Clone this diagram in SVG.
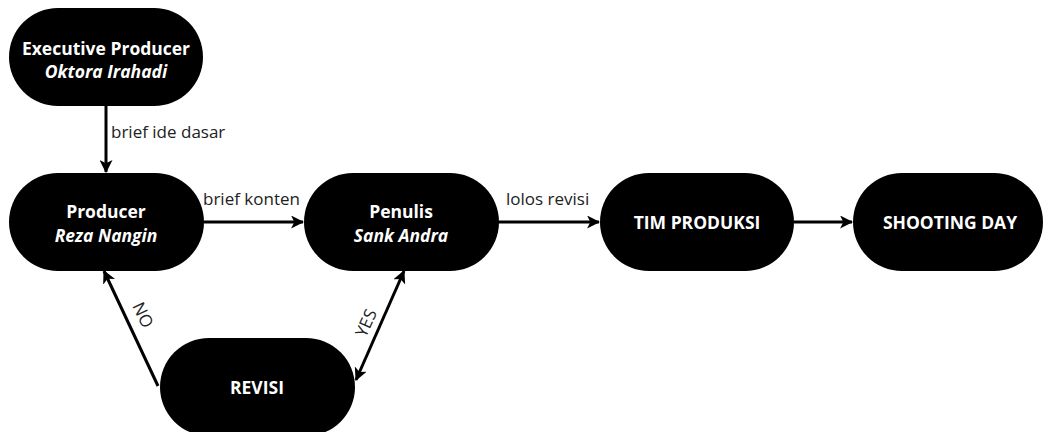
<svg xmlns="http://www.w3.org/2000/svg" width="1043" height="432" viewBox="0 0 1043 432">
<style>
.node{fill:#000}
.t{font-family:"Open Sans","Liberation Sans",sans-serif;font-size:17.5px;font-weight:bold;fill:#fff;text-anchor:middle}
.i{font-style:italic}
.lbl{font-family:"Open Sans","Liberation Sans",sans-serif;font-size:17px;fill:#222}
.m{text-anchor:middle}
.c{stroke:#000;stroke-width:3;fill:none}
</style>
<defs>
<marker id="ah" viewBox="0 0 12 12" refX="11" refY="6" markerWidth="13" markerHeight="13" markerUnits="userSpaceOnUse" orient="auto">
<path d="M0,0 L12,6 L0,12 L3,6 z" fill="#000"/>
</marker>
<marker id="as" viewBox="0 0 12 12" refX="1" refY="6" markerWidth="13" markerHeight="13" markerUnits="userSpaceOnUse" orient="auto">
<path d="M12,0 L0,6 L12,12 L9,6 z" fill="#000"/>
</marker>
</defs>
<rect width="1043" height="432" fill="#fff"/>
<g id="connectors">
<line class="c" x1="106" y1="106" x2="106" y2="172" marker-end="url(#ah)"/>
<line class="c" x1="204" y1="222" x2="303" y2="222" marker-end="url(#ah)"/>
<line class="c" x1="498" y1="222" x2="599" y2="222" marker-end="url(#ah)"/>
<line class="c" x1="794" y1="222" x2="852" y2="222" marker-end="url(#ah)"/>
<line class="c" x1="158" y1="386" x2="104" y2="271" marker-end="url(#ah)"/>
<line class="c" x1="356" y1="380" x2="404" y2="271" marker-start="url(#as)" marker-end="url(#ah)"/>
<text class="lbl" x="111" y="138">brief ide dasar</text>
<text class="lbl" x="203" y="205">brief konten</text>
<text class="lbl" x="506" y="205">lolos revisi</text>
<text class="lbl m" transform="translate(143,315) rotate(65)" y="6">NO</text>
<text class="lbl m" transform="translate(366,323) rotate(-66)" y="6">YES</text>
</g>
<g id="exec">
<rect class="node" x="9" y="8" width="194" height="98" rx="49"/>
<text class="t" x="106" y="55">Executive Producer</text>
<text class="t i" x="106" y="78">Oktora Irahadi</text>
</g>
<g id="producer">
<rect class="node" x="9" y="173" width="195" height="98" rx="49"/>
<text class="t" x="106" y="218">Producer</text>
<text class="t i" x="106" y="242">Reza Nangin</text>
</g>
<g id="penulis">
<rect class="node" x="304" y="173" width="195" height="98" rx="49"/>
<text class="t" x="401" y="218">Penulis</text>
<text class="t i" x="401" y="242">Sank Andra</text>
</g>
<g id="tim">
<rect class="node" x="600" y="173" width="194" height="98" rx="49"/>
<text class="t" x="697" y="229">TIM PRODUKSI</text>
</g>
<g id="shooting">
<rect class="node" x="853" y="173" width="190" height="98" rx="49"/>
<text class="t" x="950" y="229">SHOOTING DAY</text>
</g>
<g id="revisi">
<rect class="node" x="160" y="338" width="195" height="98" rx="49"/>
<text class="t" x="257" y="394">REVISI</text>
</g>
</svg>
